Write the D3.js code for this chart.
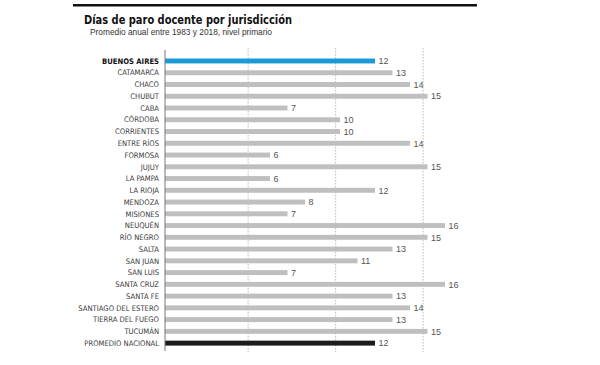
<!DOCTYPE html>
<html>
<head>
<meta charset="utf-8">
<script src="https://cdn.jsdelivr.net/npm/d3@7"></script>
<style>
  body { margin: 0; background: #fff; }
  svg { display: block; }
  .title { font-family: "Liberation Sans Narrow", "DejaVu Sans Condensed", sans-serif; font-weight: bold; font-size: 13px; fill: #111; }
  .subtitle { font-family: "Liberation Sans", Arial, sans-serif; font-size: 8.5px; fill: #333; }
  .label { font-family: "Liberation Sans Narrow", "DejaVu Sans Condensed", sans-serif; font-size: 7.6px; fill: #3a3a3a; }
  .value { font-family: "Liberation Sans", Arial, sans-serif; font-size: 9px; fill: #555; }
</style>
</head>
<body>
<svg id="chart" width="600" height="365"></svg>
<script>
  var provinces = ["BUENOS AIRES", "CATAMARCA", "CHACO", "CHUBUT", "CABA", "CÓRDOBA", "CORRIENTES",
    "ENTRE RÍOS", "FORMOSA", "JUJUY", "LA PAMPA", "LA RIOJA", "MENDOZA", "MISIONES", "NEUQUÉN",
    "RÍO NEGRO", "SALTA", "SAN JUAN", "SAN LUIS", "SANTA CRUZ", "SANTA FE", "SANTIAGO DEL ESTERO",
    "TIERRA DEL FUEGO", "TUCUMÁN", "PROMEDIO NACIONAL"];
  var days = [12, 13, 14, 15, 7, 10, 10, 14, 6, 15, 6, 12, 8, 7, 16, 15, 13, 11, 7, 16, 13, 14, 13, 15, 12];
  var gridValues = [4.75, 9.75, 14.75];

  var data = provinces.map(function(p, i) { return {name: p, value: days[i]}; });

  var svg = d3.select("#chart");

  var x = d3.scaleLinear().domain([0, 12]).range([165, 375]);
  var y = d3.scaleBand().domain(provinces).range([55.1, 349]).paddingInner(0.58).paddingOuter(0.29);

  var colorFor = function(d, i) {
    if (i == 0) return "#1b9ad6";
    if (i == data.length - 1) return "#1c1c1c";
    return "#bfbfbf";
  };

  // top rule
  svg.append("rect")
    .attr("x", 73)
    .attr("y", 4)
    .attr("width", 404)
    .attr("height", 2.5)
    .attr("fill", "#111");

  svg.append("text")
    .attr("class", "title")
    .attr("x", 84)
    .attr("y", 24)
    .attr("textLength", 208)
    .attr("lengthAdjust", "spacingAndGlyphs")
    .text("Días de paro docente por jurisdicción");

  svg.append("text")
    .attr("class", "subtitle")
    .attr("x", 90)
    .attr("y", 35)
    .attr("textLength", 182)
    .attr("lengthAdjust", "spacingAndGlyphs")
    .text("Promedio anual entre 1983 y 2018, nivel primario");

  // dotted gridlines
  svg.selectAll(".grid")
    .data(gridValues)
    .enter()
    .append("line")
    .attr("class", "grid")
    .attr("x1", function(d) { return x(d); })
    .attr("x2", function(d) { return x(d); })
    .attr("y1", 48)
    .attr("y2", 352)
    .attr("stroke", "#aaa")
    .attr("stroke-width", 0.8)
    .attr("stroke-dasharray", "1.5,1.5");

  var bar = svg.selectAll(".bar")
    .data(data)
    .enter()
    .append("g")
    .attr("class", "bar");

  bar.append("rect")
    .attr("x", x(0))
    .attr("y", function(d) { return y(d.name); })
    .attr("width", function(d) { return x(d.value) - x(0); })
    .attr("height", y.bandwidth())
    .attr("fill", colorFor);

  bar.append("text")
    .attr("class", "label")
    .attr("x", 159)
    .attr("y", function(d) { return y(d.name) + y.bandwidth() / 2; })
    .attr("dy", ".36em")
    .attr("text-anchor", "end")
    .style("font-weight", function(d, i) { return i == 0 ? "bold" : "normal"; })
    .style("fill", function(d, i) { return i == 0 ? "#111" : "#3a3a3a"; })
    .text(function(d) { return d.name; });

  bar.append("text")
    .attr("class", "value")
    .attr("x", function(d) { return x(d.value) + 3.5; })
    .attr("y", function(d) { return y(d.name) + y.bandwidth() / 2; })
    .attr("dy", ".36em")
    .text(function(d) { return d.value; });

  // axis baseline
  svg.append("line")
    .attr("x1", x(0))
    .attr("x2", x(0))
    .attr("y1", 50)
    .attr("y2", 351)
    .attr("stroke", "#777")
    .attr("stroke-width", 1);
</script>
</body>
</html>
